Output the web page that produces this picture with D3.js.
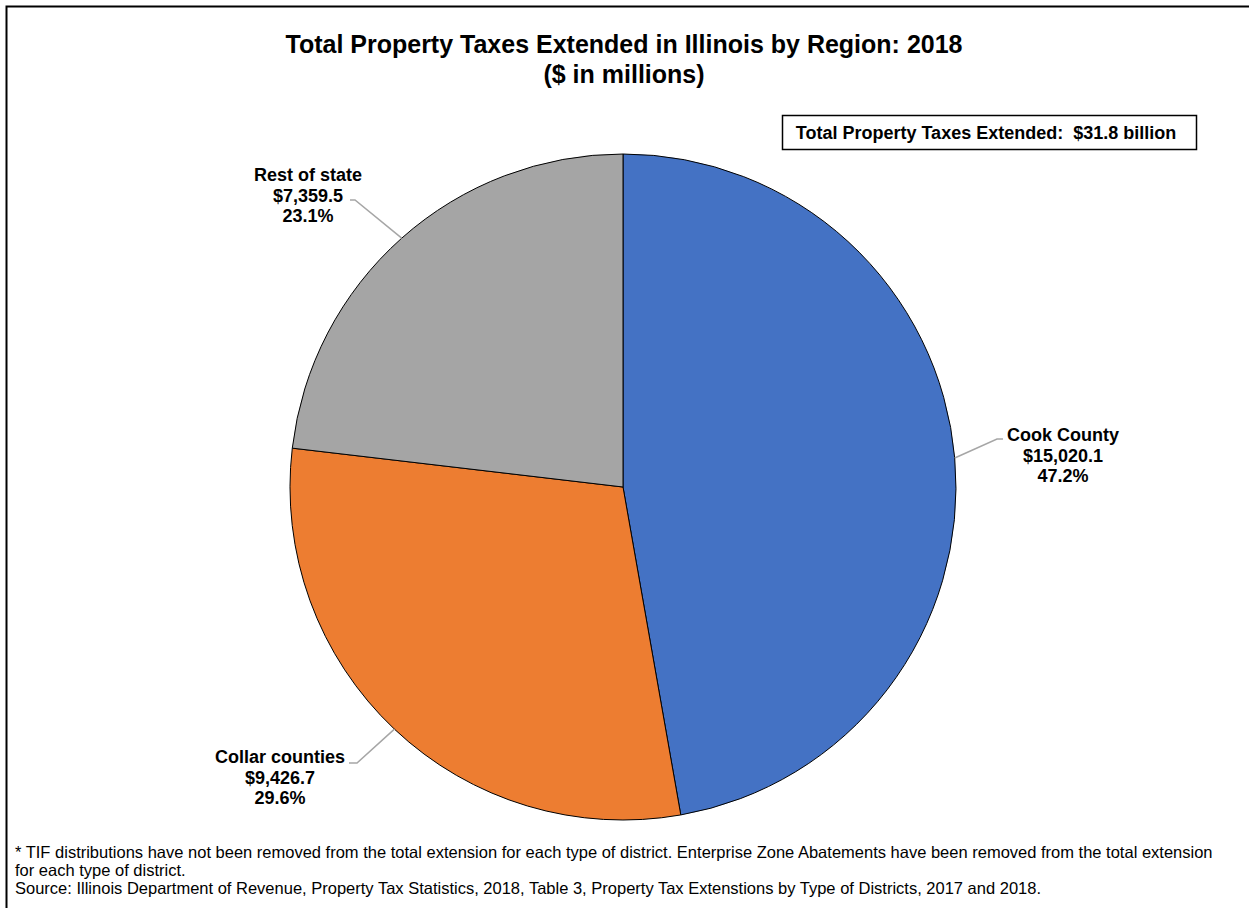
<!DOCTYPE html>
<html>
<head>
<meta charset="utf-8">
<script src="https://cdn.jsdelivr.net/npm/d3@7"></script>
<style>
  body { margin: 0; background: #fff; }
  text { font-family: Arial, "Liberation Sans", sans-serif; }
</style>
</head>
<body>
<svg id="chart"></svg>
<script>
// data
const regions = ["Cook County", "Collar counties", "Rest of state"];
const taxValues = [15020.1, 9426.7, 7359.5];
const sliceColors = ["#4472C4", "#ED7D31", "#A5A5A5"];
const titleLines = ["Total Property Taxes Extended in Illinois by Region: 2018", "($ in millions)"];
const totalLabel = "Total Property Taxes Extended:  $31.8 billion";
const noteLines = [
  "* TIF distributions have not been removed from the total extension for each type of district. Enterprise Zone Abatements have been removed from the total extension",
  "for each type of district.",
  "Source: Illinois Department of Revenue, Property Tax Statistics, 2018, Table 3, Property Tax Extenstions by Type of Districts, 2017 and 2018."
];

// label layout: elbow point, end of leader, text centre x, first baseline
const labelPos = [
  { elbow: [997, 439], end: [1003, 439], tx: 1063, ty: 441 },
  { elbow: [357, 763], end: [349, 763], tx: 280, ty: 763 },
  { elbow: [355, 200], end: [350, 200], tx: 308, ty: 181 }
];

const W = 1249, H = 908;
const cx = 623, cy = 487, r = 333;

const svg = d3.select("#chart").attr("width", W).attr("height", H);

// frame (top + left)
svg.append("path")
  .attr("d", `M6.5,${H} L6.5,6.5 L${W},6.5`)
  .attr("fill", "none").attr("stroke", "#000").attr("stroke-width", 2);

// title
svg.selectAll(".title")
  .data(titleLines)
  .enter().append("text")
  .attr("x", 624)
  .attr("y", (d, i) => 53 + i * 30)
  .attr("text-anchor", "middle")
  .style("font-size", "25px")
  .style("font-weight", "bold")
  .text(d => d);

// total box
svg.append("rect")
  .attr("x", 782.5).attr("y", 115.5).attr("width", 414).attr("height", 34)
  .attr("fill", "#fff").attr("stroke", "#000").attr("stroke-width", 1.5);
svg.append("text")
  .attr("x", 986).attr("y", 139)
  .attr("text-anchor", "middle")
  .style("font-size", "18px")
  .style("font-weight", "bold")
  .style("white-space", "pre")
  .text(totalLabel);

const total = d3.sum(taxValues);
const data = regions.map((name, i) => ({ name, value: taxValues[i], color: sliceColors[i], pos: labelPos[i] }));

const pie = d3.pie().sort(null).value(d => d.value);
const arc = d3.arc().innerRadius(0).outerRadius(r);
const arcs = pie(data);

const g = svg.append("g").attr("transform", `translate(${cx},${cy})`);

g.selectAll("path.slice")
  .data(arcs)
  .enter().append("path")
  .attr("class", "slice")
  .attr("d", arc)
  .attr("fill", d => d.data.color)
  .attr("stroke", "#000")
  .attr("stroke-width", 1);

// leader lines from arc midpoint
svg.selectAll(".leader")
  .data(arcs)
  .enter().append("polyline")
  .attr("fill", "none")
  .attr("stroke", "#A6A6A6")
  .attr("stroke-width", 1.5)
  .attr("points", d => {
    const a = (d.startAngle + d.endAngle) / 2;
    const px = cx + r * Math.sin(a), py = cy - r * Math.cos(a);
    const p = d.data.pos;
    return `${px},${py} ${p.elbow[0]},${p.elbow[1]} ${p.end[0]},${p.end[1]}`;
  });

const fmt = d3.format(",.1f");
const lbl = svg.selectAll(".lbl")
  .data(arcs)
  .enter().append("text")
  .attr("text-anchor", "middle")
  .style("font-size", "18px")
  .style("font-weight", "bold");
lbl.each(function (d) {
  const t = d3.select(this);
  const lines = [d.data.name, "$" + fmt(d.data.value), (d.data.value / total * 100).toFixed(1) + "%"];
  lines.forEach((s, i) => {
    t.append("tspan")
      .attr("x", d.data.pos.tx)
      .attr("y", d.data.pos.ty + i * 20.7)
      .text(s);
  });
});

// footnote
svg.selectAll(".note")
  .data(noteLines)
  .enter().append("text")
  .attr("x", 15)
  .attr("y", (d, i) => 858 + i * 18)
  .style("font-size", "16.5px")
  .text(d => d);
</script>
</body>
</html>
